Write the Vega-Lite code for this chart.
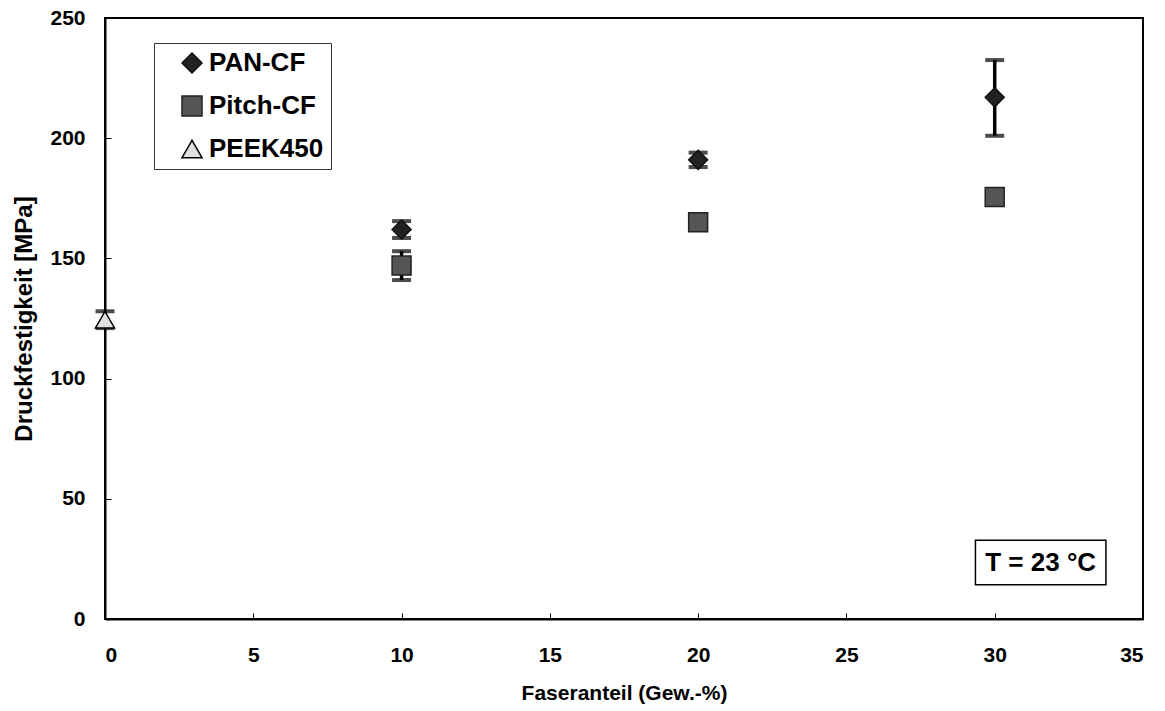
{
  "$schema": "https://vega.github.io/schema/vega-lite/v6.json",
  "autosize": "none",
  "width": 1038,
  "height": 601,
  "padding": {"left": 105, "top": 18, "right": 22, "bottom": 92},
  "background": "white",
  "config": {
    "font": "Liberation Sans",
    "view": {"stroke": "black", "strokeWidth": 2},
    "axis": {
      "grid": false,
      "domainColor": "black",
      "domainWidth": 2,
      "tickColor": "black",
      "tickWidth": 1,
      "tickSize": -6,
      "labelFont": "Liberation Sans",
      "labelFontWeight": "bold",
      "labelFontSize": 21,
      "labelColor": "black",
      "titleFont": "Liberation Sans",
      "titleFontWeight": "bold",
      "titleColor": "black"
    }
  },
  "datasets": {
    "pts": [
      {"faser": 10, "wert": 162, "lo": 158.5, "hi": 165.5, "serie": "PAN-CF"},
      {"faser": 20, "wert": 191, "lo": 188, "hi": 194, "serie": "PAN-CF"},
      {"faser": 30, "wert": 217, "lo": 201, "hi": 232.5, "serie": "PAN-CF"},
      {"faser": 10, "wert": 147, "lo": 141, "hi": 153, "serie": "Pitch-CF"},
      {"faser": 20, "wert": 165, "lo": 163, "hi": 167, "serie": "Pitch-CF"},
      {"faser": 30, "wert": 175.5, "lo": 174.5, "hi": 176.5, "serie": "Pitch-CF"},
      {"faser": 0, "wert": 124.5, "lo": 121, "hi": 128, "serie": "PEEK450"}
    ],
    "note": [
      {"x1": 29.35, "x2": 33.75, "y1": 14.2, "y2": 32.8, "xm": 31.55, "ym": 23.5, "label": "T = 23 °C"}
    ]
  },
  "layer": [
    {
      "data": {"name": "pts"},
      "mark": {"type": "errorbar", "color": "black", "ticks": {"size": 19, "thickness": 4, "color": "black"}, "rule": {"strokeWidth": 3.5}},
      "encoding": {
        "x": {"field": "faser", "type": "quantitative", "title": "Faseranteil (Gew.-%)"},
        "y": {"field": "lo", "type": "quantitative", "title": "Druckfestigkeit [MPa]"},
        "y2": {"field": "hi"}
      }
    },
    {
      "data": {"name": "pts"},
      "mark": {"type": "point", "filled": true, "size": 360, "strokeWidth": 1.5, "opacity": 1},
      "encoding": {
        "x": {
          "field": "faser", "type": "quantitative", "title": "Faseranteil (Gew.-%)",
          "scale": {"domain": [0, 35], "nice": false, "zero": false},
          "axis": {"values": [0, 5, 10, 15, 20, 25, 30, 35], "labelPadding": 31, "titlePadding": 17, "titleFontSize": 21}
        },
        "y": {
          "field": "wert", "type": "quantitative", "title": "Druckfestigkeit [MPa]",
          "scale": {"domain": [0, 250], "nice": false},
          "axis": {"values": [0, 50, 100, 150, 200, 250], "labelPadding": 26, "titlePadding": 13, "titleFontSize": 24}
        },
        "shape": {
          "field": "serie", "type": "nominal",
          "scale": {"domain": ["PAN-CF", "Pitch-CF", "PEEK450"], "range": ["diamond", "square", "triangle-up"]},
          "legend": {
            "title": null,
            "orient": "none",
            "legendX": 49,
            "legendY": 25,
            "strokeColor": "#333333",
            "padding": 7,
            "fillColor": "white",
            "labelFont": "Liberation Sans",
            "labelFontWeight": "bold",
            "labelFontSize": 26,
            "labelColor": "black",
            "labelExpr": "datum.label + '  '",
            "symbolSize": 400,
            "symbolStrokeWidth": 1.5,
            "symbolOffset": 18,
            "rowPadding": 17,
            "labelOffset": 4
          }
        },
        "fill": {
          "field": "serie", "type": "nominal",
          "scale": {"domain": ["PAN-CF", "Pitch-CF", "PEEK450"], "range": ["#222222", "#555555", "#e0e0e0"]}
        },
        "stroke": {
          "field": "serie", "type": "nominal",
          "scale": {"domain": ["PAN-CF", "Pitch-CF", "PEEK450"], "range": ["#111111", "#222222", "#000000"]}
        }
      }
    },
    {
      "data": {"name": "note"},
      "mark": {"type": "rect", "fill": "white", "stroke": "black", "strokeWidth": 1.5},
      "encoding": {
        "x": {"field": "x1", "type": "quantitative"},
        "x2": {"field": "x2"},
        "y": {"field": "y1", "type": "quantitative"},
        "y2": {"field": "y2"}
      }
    },
    {
      "data": {"name": "note"},
      "mark": {"type": "text", "font": "Liberation Sans", "fontWeight": "bold", "fontSize": 26, "color": "black", "align": "center", "baseline": "middle"},
      "encoding": {
        "x": {"field": "xm", "type": "quantitative"},
        "y": {"field": "ym", "type": "quantitative"},
        "text": {"field": "label"}
      }
    }
  ]
}
